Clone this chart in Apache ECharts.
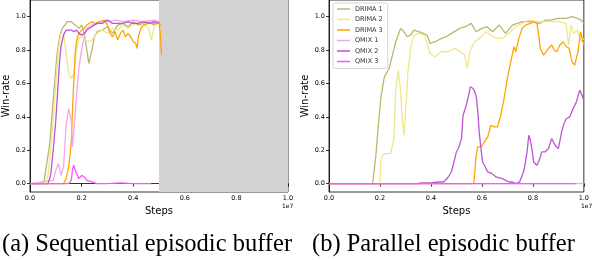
<!DOCTYPE html>
<html>
<head>
<meta charset="utf-8">
<script src="https://cdn.jsdelivr.net/npm/echarts@6/dist/echarts.min.js"></script>
<style>
html,body{margin:0;padding:0;background:#fff;}
#chart{width:592px;height:260px;}
</style>
</head>
<body>
<div id="chart"></div>
<script>
// ---------- labels ----------
const seriesNames = ['DRIMA 1', 'DRIMA 2', 'DRIMA 3', 'QMIX 1', 'QMIX 2', 'QMIX 3'];
const xTicks = [0, 0.2, 0.4, 0.6, 0.8, 1.0];
const yTicks = [0, 0.2, 0.4, 0.6, 0.8, 1.0];
const captions = ['(a) Sequential episodic buffer', '(b) Parallel episodic buffer'];
const xScaleLabel = '1e7';
const shadeRange = [0.5, 1.0];   // unused region in the sequential run (x 1e7 steps)

// ---------- (a) sequential episodic buffer, steps in 1e7 ----------
const seqDrima1X = [0, 0.04, 0.055, 0.065, 0.075, 0.085, 0.095, 0.105, 0.115, 0.125, 0.135, 0.145, 0.16, 0.175, 0.19, 0.2, 0.21, 0.22, 0.228, 0.24, 0.25, 0.26, 0.28, 0.3, 0.32, 0.34, 0.36, 0.38, 0.4, 0.42, 0.44, 0.46, 0.48, 0.5, 0.505, 0.51];
const seqDrima1Y = [0, 0, 0.02, 0.12, 0.22, 0.4, 0.6, 0.78, 0.88, 0.93, 0.95, 0.97, 0.97, 0.95, 0.93, 0.95, 0.9, 0.8, 0.72, 0.8, 0.88, 0.91, 0.92, 0.94, 0.9, 0.95, 0.96, 0.94, 0.97, 0.95, 0.96, 0.97, 0.95, 0.97, 0.96, 0.95];

const seqDrima2X = [0, 0.06, 0.07, 0.08, 0.09, 0.1, 0.11, 0.12, 0.13, 0.14, 0.15, 0.16, 0.17, 0.18, 0.19, 0.2, 0.22, 0.24, 0.26, 0.28, 0.3, 0.32, 0.34, 0.36, 0.38, 0.4, 0.42, 0.44, 0.46, 0.47, 0.48, 0.5, 0.51];
const seqDrima2Y = [0, 0, 0.05, 0.2, 0.38, 0.6, 0.8, 0.9, 0.9, 0.78, 0.66, 0.63, 0.66, 0.8, 0.87, 0.89, 0.85, 0.86, 0.9, 0.92, 0.9, 0.93, 0.92, 0.95, 0.93, 0.95, 0.97, 0.95, 0.93, 0.86, 0.93, 0.97, 0.96];

const seqDrima3X = [0, 0.13, 0.14, 0.15, 0.155, 0.16, 0.165, 0.17, 0.175, 0.18, 0.185, 0.19, 0.2, 0.21, 0.22, 0.24, 0.25, 0.27, 0.29, 0.3, 0.31, 0.32, 0.33, 0.34, 0.35, 0.36, 0.37, 0.38, 0.39, 0.4, 0.41, 0.415, 0.42, 0.43, 0.44, 0.46, 0.48, 0.5, 0.505, 0.51];
const seqDrima3Y = [0, 0, 0.03, 0.1, 0.1, 0.25, 0.45, 0.62, 0.78, 0.85, 0.88, 0.9, 0.92, 0.93, 0.95, 0.97, 0.96, 0.97, 0.98, 0.95, 0.9, 0.88, 0.91, 0.86, 0.9, 0.92, 0.88, 0.9, 0.88, 0.85, 0.84, 0.81, 0.88, 0.93, 0.95, 0.96, 0.96, 0.97, 0.9, 0.77];

const seqQmix1X = [0, 0.09, 0.1, 0.11, 0.12, 0.13, 0.14, 0.15, 0.16, 0.165, 0.17, 0.18, 0.19, 0.2, 0.21, 0.22, 0.24, 0.26, 0.28, 0.3, 0.33, 0.36, 0.4, 0.44, 0.48, 0.5];
const seqQmix1Y = [0, 0.02, 0.08, 0.12, 0.05, 0.1, 0.35, 0.45, 0.38, 0.22, 0.32, 0.52, 0.7, 0.8, 0.88, 0.93, 0.95, 0.96, 0.97, 0.97, 0.98, 0.97, 0.98, 0.97, 0.98, 0.97];

const seqQmix2X = [0, 0.07, 0.08, 0.09, 0.1, 0.105, 0.11, 0.115, 0.12, 0.13, 0.14, 0.15, 0.16, 0.17, 0.18, 0.19, 0.2, 0.21, 0.22, 0.24, 0.26, 0.28, 0.3, 0.32, 0.34, 0.36, 0.38, 0.4, 0.42, 0.44, 0.46, 0.48, 0.5];
const seqQmix2Y = [0, 0, 0.05, 0.2, 0.38, 0.5, 0.62, 0.74, 0.82, 0.89, 0.92, 0.92, 0.92, 0.91, 0.92, 0.9, 0.89, 0.9, 0.92, 0.94, 0.96, 0.96, 0.98, 0.96, 0.96, 0.96, 0.97, 0.96, 0.96, 0.97, 0.96, 0.97, 0.96];

const seqQmix3X = [0, 0.15, 0.16, 0.165, 0.17, 0.175, 0.18, 0.19, 0.2, 0.21, 0.22, 0.24, 0.26, 0.3, 0.35, 0.4, 0.47];
const seqQmix3Y = [0, 0, 0.02, 0.09, 0.11, 0.08, 0.06, 0.03, 0.05, 0.04, 0.02, 0.01, 0, 0, 0.005, 0, 0];

// ---------- (b) parallel episodic buffer, steps in 1e7 ----------
const parDrima1X = [0, 0.171, 0.184, 0.197, 0.204, 0.217, 0.236, 0.249, 0.262, 0.281, 0.294, 0.307, 0.32, 0.333, 0.352, 0.37, 0.385, 0.397, 0.416, 0.442, 0.46, 0.481, 0.513, 0.535, 0.558, 0.577, 0.6, 0.62, 0.642, 0.668, 0.693, 0.72, 0.758, 0.79, 0.826, 0.85, 0.87, 0.9, 0.93, 0.955, 0.974, 0.99, 1.0];
const parDrima1Y = [0, 0, 0.17, 0.41, 0.52, 0.64, 0.69, 0.77, 0.85, 0.93, 0.91, 0.88, 0.89, 0.92, 0.91, 0.9, 0.89, 0.84, 0.85, 0.87, 0.88, 0.9, 0.93, 0.94, 0.96, 0.91, 0.93, 0.94, 0.91, 0.95, 0.9, 0.95, 0.97, 0.97, 0.96, 0.98, 0.98, 0.99, 0.99, 1.0, 0.99, 0.98, 0.96];

const parDrima2X = [0, 0.2, 0.204, 0.215, 0.242, 0.255, 0.262, 0.272, 0.28, 0.287, 0.294, 0.3, 0.31, 0.32, 0.333, 0.352, 0.375, 0.397, 0.416, 0.44, 0.465, 0.494, 0.515, 0.532, 0.543, 0.552, 0.571, 0.59, 0.616, 0.635, 0.655, 0.68, 0.705, 0.732, 0.758, 0.784, 0.82, 0.86, 0.9, 0.93, 0.94, 0.95, 0.96, 0.975, 0.99, 1.0];
const parDrima2Y = [0, 0, 0.15, 0.18, 0.18, 0.27, 0.57, 0.68, 0.57, 0.4, 0.29, 0.41, 0.67, 0.81, 0.89, 0.9, 0.89, 0.78, 0.76, 0.79, 0.79, 0.81, 0.79, 0.77, 0.69, 0.79, 0.85, 0.87, 0.91, 0.89, 0.87, 0.87, 0.9, 0.94, 0.96, 0.98, 0.97, 0.97, 0.97, 0.96, 0.83, 0.95, 0.9, 0.92, 0.85, 0.87];

const parDrima3X = [0, 0.568, 0.571, 0.577, 0.584, 0.597, 0.61, 0.623, 0.635, 0.648, 0.661, 0.674, 0.687, 0.7, 0.713, 0.726, 0.733, 0.745, 0.758, 0.771, 0.79, 0.805, 0.816, 0.823, 0.829, 0.842, 0.852, 0.861, 0.874, 0.884, 0.893, 0.906, 0.919, 0.932, 0.942, 0.954, 0.964, 0.977, 0.987, 1.0];
const parDrima3Y = [0, 0, 0.05, 0.16, 0.22, 0.22, 0.25, 0.28, 0.35, 0.34, 0.34, 0.41, 0.51, 0.63, 0.73, 0.82, 0.79, 0.87, 0.93, 0.95, 0.96, 0.97, 0.96, 0.89, 0.81, 0.77, 0.79, 0.81, 0.83, 0.8, 0.79, 0.83, 0.85, 0.82, 0.81, 0.73, 0.71, 0.79, 0.91, 0.83];

const parQmix1X = [0, 0.25, 0.5, 0.75, 1.0];
const parQmix1Y = [0, 0, 0, 0, 0];

const parQmix2X = [0, 0.35, 0.36, 0.4, 0.43, 0.45, 0.468, 0.48, 0.487, 0.5, 0.51, 0.52, 0.526, 0.539, 0.548, 0.555, 0.565, 0.572, 0.578, 0.584, 0.59, 0.597, 0.603, 0.613, 0.623, 0.64, 0.655, 0.68, 0.707, 0.72, 0.733, 0.748, 0.758, 0.765, 0.771, 0.778, 0.784, 0.79, 0.797, 0.803, 0.816, 0.825, 0.835, 0.848, 0.861, 0.874, 0.887, 0.9, 0.913, 0.922, 0.932, 0.945, 0.958, 0.971, 0.984, 0.99, 1.0];
const parQmix2Y = [0, 0, 0.005, 0.005, 0.01, 0.01, 0.04, 0.07, 0.11, 0.19, 0.22, 0.27, 0.41, 0.47, 0.53, 0.58, 0.57, 0.55, 0.52, 0.43, 0.3, 0.2, 0.13, 0.1, 0.07, 0.06, 0.04, 0.03, 0.01, 0.01, 0, 0.01, 0.05, 0.08, 0.13, 0.2, 0.29, 0.26, 0.2, 0.13, 0.11, 0.14, 0.19, 0.19, 0.21, 0.27, 0.23, 0.21, 0.31, 0.36, 0.39, 0.4, 0.45, 0.49, 0.56, 0.54, 0.5];

const parQmix3X = [0, 0.3, 0.6, 0.968];
const parQmix3Y = [0, 0, 0, 0];

// ---------- styling ----------
const colors = ['#bdb76b', '#f0e68c', '#ffa500', '#f2a6f0', '#ba55d3', '#ff55ff'];
const zip = (xs, ys) => xs.map((x, i) => [x, ys[i]]);

const seqData = [
  zip(seqDrima1X, seqDrima1Y), zip(seqDrima2X, seqDrima2Y), zip(seqDrima3X, seqDrima3Y),
  zip(seqQmix1X, seqQmix1Y), zip(seqQmix2X, seqQmix2Y), zip(seqQmix3X, seqQmix3Y)
];
const parData = [
  zip(parDrima1X, parDrima1Y), zip(parDrima2X, parDrima2Y), zip(parDrima3X, parDrima3Y),
  zip(parQmix1X, parQmix1Y), zip(parQmix2X, parQmix2Y), zip(parQmix3X, parQmix3Y)
];

const FONT = 'DejaVu Sans';
const fmt = v => v.toFixed(1);

function xAxis(gridIndex) {
  return {
    type: 'value', gridIndex, min: 0, max: 1.0,
    name: 'Steps', nameLocation: 'middle', nameGap: 14,
    nameTextStyle: { fontFamily: FONT, fontSize: 10, color: '#000' },
    axisLine: { show: true, lineStyle: { color: '#000', width: 0.8 } },
    axisTick: { show: true, length: 3, customValues: xTicks, lineStyle: { color: '#000', width: 0.8 } },
    axisLabel: { customValues: xTicks, formatter: fmt, fontFamily: FONT, fontSize: 6.5, color: '#000', margin: 3 },
    splitLine: { show: false }
  };
}
function yAxis(gridIndex) {
  return {
    type: 'value', gridIndex, min: -0.05, max: 1.1,
    name: 'Win-rate', nameLocation: 'middle', nameGap: 17,
    nameTextStyle: { fontFamily: FONT, fontSize: 10, color: '#000' },
    axisLine: { show: true, lineStyle: { color: '#000', width: 0.8 } },
    axisTick: { show: true, length: 3, customValues: yTicks, lineStyle: { color: '#000', width: 0.8 } },
    axisLabel: { customValues: yTicks, formatter: fmt, fontFamily: FONT, fontSize: 6.5, color: '#000', margin: 4 },
    splitLine: { show: false }
  };
}

const series = [];
// shaded (unused) region in panel (a)
series.push({
  type: 'line', xAxisIndex: 0, yAxisIndex: 0, data: [], silent: true, z: 1,
  markArea: {
    silent: true,
    itemStyle: { color: '#d3d3d3' },
    data: [[{ xAxis: shadeRange[0] }, { xAxis: shadeRange[1] }]]
  }
});
seriesNames.forEach((name, i) => {
  series.push({
    name, type: 'line', xAxisIndex: 0, yAxisIndex: 0, data: seqData[i],
    symbol: 'none', z: 3 + i, color: colors[i],
    lineStyle: { width: 1.3, color: colors[i] }
  });
});
seriesNames.forEach((name, i) => {
  series.push({
    name, type: 'line', xAxisIndex: 1, yAxisIndex: 1, data: parData[i],
    symbol: 'none', z: 3 + i, color: colors[i],
    lineStyle: { width: 1.3, color: colors[i] }
  });
});

const captionStyle = { fontFamily: 'Liberation Serif', fontSize: 24.5, fontWeight: 'normal', color: '#000' };

const option = {
  animation: false,
  backgroundColor: '#fff',
  grid: [
    { left: 30, top: 0, width: 258, height: 192, show: true, borderColor: '#000', borderWidth: 0.8, backgroundColor: 'transparent' },
    { left: 329, top: 0, width: 259, height: 192, show: true, borderColor: '#000', borderWidth: 0.8, backgroundColor: 'transparent' }
  ],
  xAxis: [xAxis(0), xAxis(1)],
  yAxis: [yAxis(0), yAxis(1)],
  legend: {
    data: seriesNames, orient: 'vertical', left: 333, top: 3,
    icon: 'rect', itemWidth: 13, itemHeight: 1.5, itemGap: 2.5,
    textStyle: { fontFamily: FONT, fontSize: 6.5, color: '#333', lineHeight: 8, padding: [0, 0, 0, 0] },
    borderColor: '#ccc', borderWidth: 0.8, borderRadius: 2,
    backgroundColor: 'rgba(255,255,255,0.85)', padding: [2, 5, 3, 4]
  },
  title: [
    { text: captions[0], left: 2, top: 232, textStyle: captionStyle, padding: 0 },
    { text: captions[1], left: 312, top: 232, textStyle: captionStyle, padding: 0 },
    { text: xScaleLabel, left: 282, top: 203, textStyle: { fontFamily: FONT, fontSize: 6, fontWeight: 'normal', color: '#000' }, padding: 0 },
    { text: xScaleLabel, left: 581, top: 203, textStyle: { fontFamily: FONT, fontSize: 6, fontWeight: 'normal', color: '#000' }, padding: 0 }
  ],
  series
};

const chart = echarts.init(document.getElementById('chart'), null, { renderer: 'canvas' });
chart.setOption(option);
</script>
</body>
</html>
